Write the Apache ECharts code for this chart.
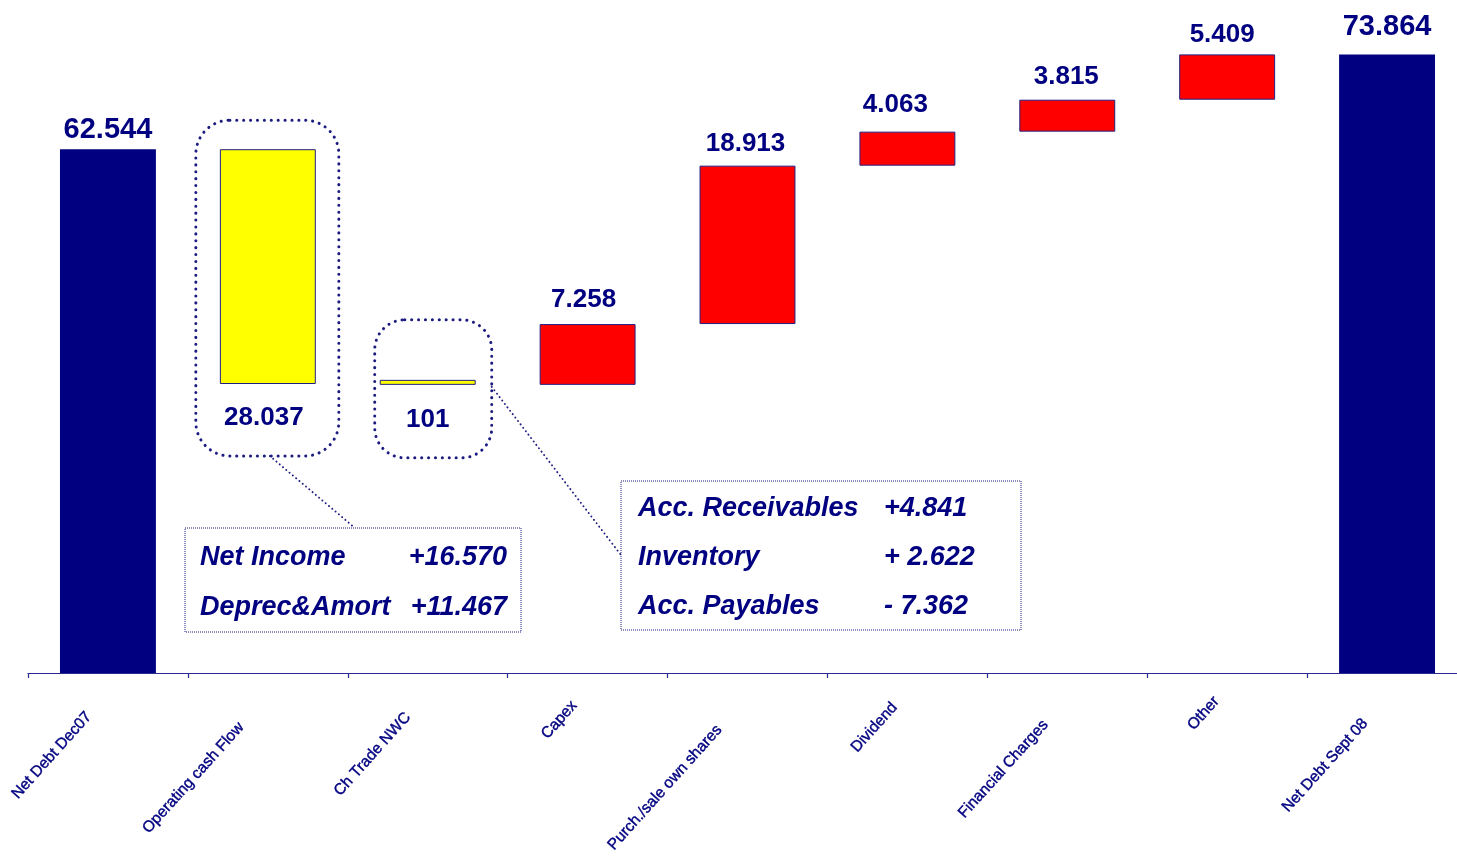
<!DOCTYPE html>
<html>
<head>
<meta charset="utf-8">
<script src="https://cdn.jsdelivr.net/npm/echarts@6/dist/echarts.min.js"></script>
<style>
  html, body { margin: 0; padding: 0; background: #ffffff; }
  #main { width: 1457px; height: 858px; }
</style>
</head>
<body>
<div id="main"></div>
<script>
// ---- data ----
const categories = ['Net Debt Dec07', 'Operating cash Flow', 'Ch Trade NWC', 'Capex',
  'Purch./sale own shares', 'Dividend', 'Financial Charges', 'Other', 'Net Debt Sept 08'];
const values = [62.544, 28.037, 0.101, 7.258, 18.913, 4.063, 3.815, 5.409, 73.864];
const kinds = ['total', 'decrease', 'decrease', 'increase', 'increase', 'increase', 'increase', 'increase', 'total'];
const valueLabels = ['62.544', '28.037', '101', '7.258', '18.913', '4.063', '3.815', '5.409', '73.864'];
const ocfBreakdownNames = ['Net Income', 'Deprec&Amort'];
const ocfBreakdownValues = ['+16.570', '+11.467'];
const nwcBreakdownNames = ['Acc. Receivables', 'Inventory', 'Acc. Payables'];
const nwcBreakdownValues = ['+4.841', '+ 2.622', '- 7.362'];

// ---- styles ----
const NAVY = '#000080';
const FONT = 'Arial, "Liberation Sans", sans-serif';
const kindColor = { total: '#000080', decrease: '#FFFF00', increase: '#FF0000' };
const labelGap = [5, 21, 22, 11, 9, 14, 10, 7, 13];
const labelShiftX = [0, -4, 0, -4, -2, -12, -1, -5, 0];
// per-label nudge for rotated axis labels: [padRight, padTop]
const axisNudge = [[34, 10], [47, 13], [35, 10], [22, 4], [50, 14], [23, 7], [42, 17], [17, 2], [41, 15]];

// ---- waterfall bases ----
const bases = [];
let running = 0;
values.forEach((v, i) => {
  if (kinds[i] === 'total') { bases.push(0); running = v; }
  else if (kinds[i] === 'decrease') { running -= v; bases.push(running); }
  else { bases.push(running); running += v; }
});

const rich = {};
axisNudge.forEach((n, i) => {
  rich['l' + i] = {
    fontSize: 15.6, fontFamily: FONT, color: NAVY,
    textBorderColor: NAVY, textBorderWidth: 0.4,
    padding: [n[1], n[0], 0, 0]
  };
});

const barData = values.map((v, i) => {
  const k = kinds[i];
  return {
    value: v,
    itemStyle: {
      color: kindColor[k],
      borderColor: k === 'total' ? kindColor[k] : '#202080',
      borderWidth: k === 'total' ? 0 : 1
    },
    label: {
      show: true,
      position: k === 'decrease' ? 'bottom' : 'top',
      distance: labelGap[i],
      offset: [labelShiftX[i], 0],
      formatter: valueLabels[i],
      fontSize: k === 'total' ? 29 : 26,
      fontWeight: 'bold',
      fontFamily: FONT,
      color: NAVY
    }
  };
});

const chart = echarts.init(document.getElementById('main'));
chart.setOption({
  backgroundColor: '#ffffff',
  animation: false,
  grid: { left: 28, right: -10, top: 3, bottom: 185, outerBoundsMode: 'none', containLabel: false },
  xAxis: {
    type: 'category',
    data: categories,
    axisLine: { show: true, lineStyle: { color: '#2a2a90', width: 1.2 } },
    axisTick: { show: true, length: 5, lineStyle: { color: '#2a2a90', width: 1.2 } },
    axisLabel: {
      interval: 0,
      rotate: 48,
      margin: 12.5,
      color: NAVY,
      fontSize: 15.6,
      fontFamily: FONT,
      hideOverlap: false,
      formatter: (v, i) => '{l' + i + '|' + v + '}',
      rich: rich
    },
    splitLine: { show: false }
  },
  yAxis: {
    type: 'value',
    min: 0, max: 80,
    show: false,
    splitLine: { show: false }
  },
  series: [
    {
      name: 'base', type: 'bar', stack: 'w', silent: true,
      itemStyle: { color: 'transparent' },
      data: bases, barWidth: '60%'
    },
    {
      name: 'value', type: 'bar', stack: 'w', barWidth: '60%', barMinHeight: 5,
      data: barData
    }
  ]
});

// ---- annotations anchored to bars ----
function xp(i) { return chart.convertToPixel({ xAxisIndex: 0 }, i); }
function yp(v) { return chart.convertToPixel({ yAxisIndex: 0 }, v); }
const cx1 = xp(1), top1 = yp(bases[1] + values[1]), bot1 = yp(bases[1]);
const cx2 = xp(2), mid2 = yp(bases[2]);

const dotted = { fill: null, stroke: '#1c1c80', lineWidth: 3, lineDash: [0.1, 6.8], lineCap: 'round' };
const fine = { fill: null, stroke: '#1c1c80', lineWidth: 1.9, lineDash: [0.1, 4.2], lineCap: 'round' };
const boxStyle = { fill: null, stroke: '#1c1c80', lineWidth: 1, lineDash: [1, 1] };
const txt = (text, x, y, align) => ({
  type: 'text', x: x, y: y, z: 10,
  style: { text: text, font: 'italic bold 27px ' + FONT, fill: NAVY, textAlign: align, textVerticalAlign: 'middle' }
});

const r1 = { x: cx1 - 72, y: top1 - 29, width: 143, height: (bot1 + 72) - (top1 - 29), r: 34 };
const r2 = { x: cx2 - 53, y: mid2 - 65, width: 117, height: 138, r: 30 };
const box1 = { x: 185, y: 528, width: 336, height: 104 };
const box2 = { x: 621, y: 481, width: 400, height: 149 };

const graphics = [
  { type: 'rect', shape: r1, style: dotted, z: 5 },
  { type: 'rect', shape: r2, style: dotted, z: 5 },
  { type: 'line', shape: { x1: cx1 + 2, y1: r1.y + r1.height, x2: 355, y2: box1.y }, style: fine, z: 5 },
  { type: 'line', shape: { x1: r2.x + r2.width, y1: mid2 + 2, x2: box2.x, y2: 555 }, style: fine, z: 5 },
  { type: 'rect', shape: box1, style: boxStyle, z: 5 },
  { type: 'rect', shape: box2, style: boxStyle, z: 5 }
];
ocfBreakdownNames.forEach((n, i) => {
  graphics.push(txt(n, 200, 558 + i * 50, 'left'));
  graphics.push(txt(ocfBreakdownValues[i], 507, 558 + i * 50, 'right'));
});
nwcBreakdownNames.forEach((n, i) => {
  graphics.push(txt(n, 638, 509 + i * 49, 'left'));
  graphics.push(txt(nwcBreakdownValues[i], 884, 509 + i * 49, 'left'));
});
chart.setOption({ graphic: graphics });
</script>
</body>
</html>
